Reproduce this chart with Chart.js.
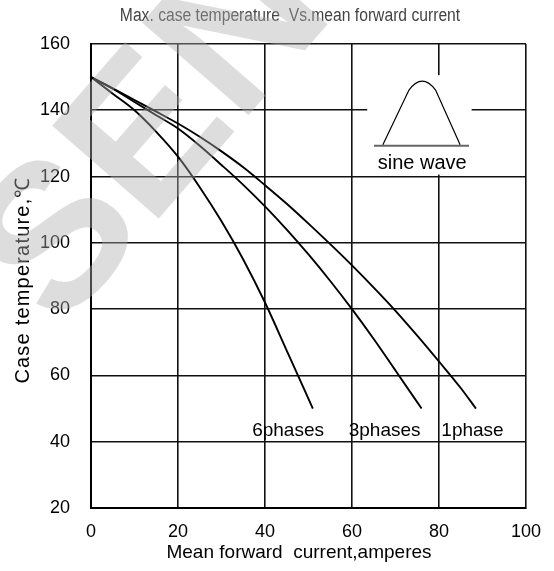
<!DOCTYPE html>
<html>
<head>
<meta charset="utf-8">
<script src="https://cdn.jsdelivr.net/npm/chart.js@4/dist/chart.umd.min.js"></script>
<style>
  html, body { margin: 0; padding: 0; background: #fff; }
  #wrap { width: 554px; height: 571px; position: relative; }
</style>
</head>
<body>
<div id="wrap"><canvas id="chartCanvas"></canvas></div>
<script>
// Werte
const xTicks = [0, 20, 40, 60, 80, 100];
const yTicks = [20, 40, 60, 80, 100, 120, 140, 160];

const x1phase = [0, 5, 10, 15, 20, 25, 30, 35, 40, 45, 50, 55, 60, 65, 70, 75, 80, 85, 88.5];
const t1phase = [150, 146.6, 143.1, 139.6, 136, 132, 127.6, 122.8, 117.4, 111.8, 105.8, 99.6, 93.2, 86.5, 79.5, 72, 64.2, 56.2, 50];

const x3phase = [0, 5, 10, 15, 20, 25, 30, 35, 40, 45, 50, 55, 60, 65, 70, 76];
const t3phase = [150, 146.5, 142.5, 138.5, 134.5, 129.3, 123.5, 117.5, 111, 104, 96.5, 88.5, 80, 71, 61.5, 50];

const x6phase = [0, 5, 10, 15, 20, 25, 30, 35, 40, 45, 51];
const t6phase = [150, 145, 140, 133.5, 126, 116.8, 106.5, 95, 82, 67.5, 50];

const seriesNames = ['1phase', '3phases', '6phases'];

const titleText = 'Max. case temperature  Vs.mean forward current';
const xTitle = 'Mean forward  current,amperes';
const yTitle = 'Case temperature,\u2103';

// Beschriftungen / Skizze (Datenkoordinaten)
const curveLabels = [
  { text: '6phases', x: 45.3, y: 41.8 },
  { text: '3phases', x: 67.5, y: 41.8 },
  { text: '1phase',  x: 87.7, y: 41.8 }
];
const inset = { x0: 63.5, x1: 87.5, y0: 120.6, y1: 150.6 };

const FONT = "'Liberation Sans', Arial, sans-serif";

function toPoints(xs, ys) {
  return xs.map((x, i) => ({ x: x, y: ys[i] }));
}

const decor = {
  id: 'decor',
  beforeDraw(chart) {
    const ctx = chart.ctx;
    ctx.save();
    ctx.fillStyle = '#fff';
    ctx.fillRect(0, 0, chart.width, chart.height);
    ctx.restore();
  },
  beforeDatasetsDraw(chart) {
    const { ctx, scales: { x, y } } = chart;
    ctx.save();
    // weisses Feld fuer die Sinus-Skizze
    const bx0 = x.getPixelForValue(inset.x0), bx1 = x.getPixelForValue(inset.x1);
    const by0 = y.getPixelForValue(inset.y1), by1 = y.getPixelForValue(inset.y0);
    ctx.fillStyle = '#fff';
    ctx.fillRect(bx0, by0, bx1 - bx0, by1 - by0);

    const w = bx1 - bx0, h = by1 - by0;
    const base = by0 + h * 0.71;
    ctx.strokeStyle = '#666';
    ctx.lineWidth = 2;
    ctx.beginPath();
    ctx.moveTo(bx0 + w * 0.065, base);
    ctx.lineTo(bx0 + w * 0.975, base);
    ctx.stroke();

    ctx.strokeStyle = '#000';
    ctx.lineWidth = 1.2;
    ctx.beginPath();
    ctx.moveTo(bx0 + w * 0.15, base - 1);
    ctx.lineTo(bx0 + w * 0.40, by0 + h * 0.15);
    ctx.quadraticCurveTo(bx0 + w * 0.527, by0 - h * 0.03, bx0 + w * 0.655, by0 + h * 0.15);
    ctx.lineTo(bx0 + w * 0.89, base - 1);
    ctx.stroke();

    ctx.fillStyle = '#000';
    ctx.font = '20px ' + FONT;
    ctx.textAlign = 'center';
    ctx.textBaseline = 'alphabetic';
    ctx.fillText('sine wave', bx0 + w * 0.527, by0 + h * 0.945);

    // Kurvenbeschriftungen
    ctx.font = '19px ' + FONT;
    curveLabels.forEach(l => {
      ctx.fillText(l.text, x.getPixelForValue(l.x), y.getPixelForValue(l.y));
    });

    // Titel (schmal gezogen)
    ctx.save();
    ctx.fillStyle = '#444';
    ctx.font = '18px ' + FONT;
    ctx.translate(290, 20.5);
    ctx.scale(0.87, 1);
    ctx.fillText(titleText, 0, 0);
    ctx.restore();

    // Achsentitel
    ctx.font = '19px ' + FONT;
    ctx.textBaseline = 'middle';
    ctx.fillText(xTitle, 299, 553);

    ctx.save();
    ctx.translate(23, (chart.chartArea.top + chart.chartArea.bottom) / 2 + 4);
    ctx.rotate(-Math.PI / 2);
    ctx.font = '20px ' + FONT;
    ctx.letterSpacing = '1.2px';
    ctx.fillText(yTitle, 0, 0);
    ctx.restore();

    ctx.restore();
  },
  afterDraw(chart) {
    // Wasserzeichen
    const ctx = chart.ctx;
    ctx.save();
    ctx.translate(60, 332);
    ctx.rotate(-49 * Math.PI / 180);
    ctx.fillStyle = 'rgba(175,175,175,0.42)';
    ctx.font = 'bold 205px ' + FONT;
    ctx.textAlign = 'left';
    ctx.textBaseline = 'alphabetic';
    ctx.fillText('SEN', 0, 0);
    ctx.restore();
  }
};

const gridStyle = { color: '#111', lineWidth: 1.6, drawTicks: false };
const borderStyle = { display: true, color: '#000', width: 2 };

new Chart(document.getElementById('chartCanvas').getContext('2d'), {
  type: 'line',
  data: {
    datasets: [
      { label: seriesNames[0], data: toPoints(x1phase, t1phase) },
      { label: seriesNames[1], data: toPoints(x3phase, t3phase) },
      { label: seriesNames[2], data: toPoints(x6phase, t6phase) }
    ].map(d => Object.assign(d, {
      borderColor: '#000',
      borderWidth: 1.9,
      pointRadius: 0,
      fill: false,
      cubicInterpolationMode: 'monotone'
    }))
  },
  options: {
    responsive: true,
    maintainAspectRatio: false,
    animation: false,
    devicePixelRatio: 1,
    layout: { padding: { top: 44, right: 26.5, left: 0, bottom: 0 } },
    plugins: { legend: { display: false }, tooltip: { enabled: false } },
    scales: {
      x: {
        type: 'linear',
        min: xTicks[0],
        max: xTicks[xTicks.length - 1],
        afterBuildTicks: s => { s.ticks = xTicks.map(v => ({ value: v })); },
        afterFit: s => { s.height = 63; },
        ticks: { color: '#000', font: { family: FONT, size: 18 }, padding: 13, maxRotation: 0 },
        grid: gridStyle,
        border: borderStyle
      },
      y: {
        min: yTicks[0],
        max: yTicks[yTicks.length - 1],
        afterBuildTicks: s => { s.ticks = yTicks.map(v => ({ value: v })); },
        afterFit: s => { s.width = 91; },
        ticks: { color: '#000', font: { family: FONT, size: 18 }, padding: 21 },
        grid: gridStyle,
        border: borderStyle
      }
    }
  },
  plugins: [decor]
});
</script>
</body>
</html>
